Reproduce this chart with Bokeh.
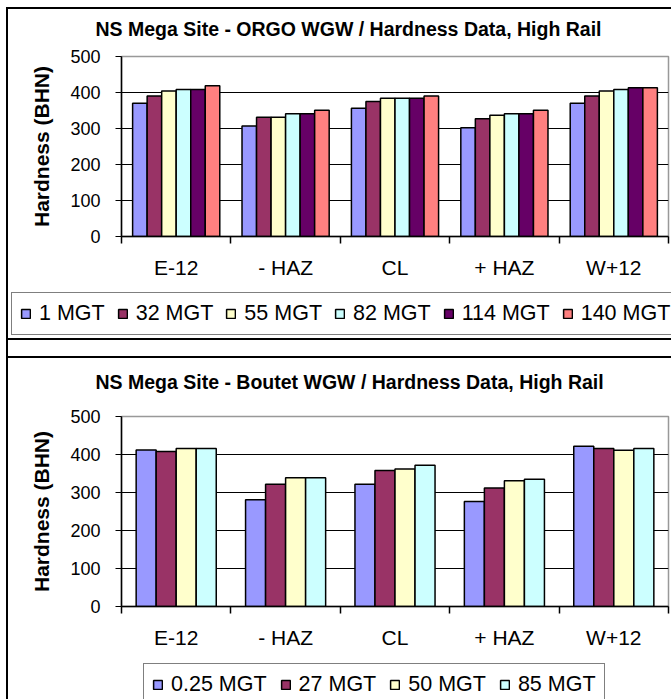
import numpy as np
from bokeh.plotting import figure
from bokeh.models import (ColumnDataSource, Range1d, FixedTicker, Legend,
                          LegendItem, Div, Title)
from bokeh.transform import dodge
from bokeh.layouts import column
from bokeh.embed import file_html
from bokeh.resources import INLINE

# ---------------- data ----------------
categories = ["E-12", "- HAZ", "CL", "+ HAZ", "W+12"]
y_ticks = [0, 100, 200, 300, 400, 500]

orgo_title = "NS Mega Site - ORGO WGW / Hardness Data, High Rail"
orgo_series = ["1 MGT", "32 MGT", "55 MGT", "82 MGT", "114 MGT", "140 MGT"]
orgo_1 = [370, 307, 356, 302, 370]
orgo_32 = [390, 331, 375, 327, 390]
orgo_55 = [404, 331, 384, 337, 404]
orgo_82 = [408, 341, 384, 341, 408]
orgo_114 = [408, 341, 384, 341, 413]
orgo_140 = [419, 351, 390, 351, 413]

boutet_title = "NS Mega Site - Boutet WGW / Hardness Data, High Rail"
boutet_series = ["0.25 MGT", "27 MGT", "50 MGT", "85 MGT"]
boutet_025 = [412, 281, 322, 276, 422]
boutet_27 = [408, 322, 358, 312, 416]
boutet_50 = [416, 339, 362, 331, 411]
boutet_85 = [416, 339, 372, 335, 416]

colors = ["#9999FF", "#993366", "#FFFFCC", "#CCFFFF", "#660066", "#FF8080"]

FONT = "Liberation Sans"
W = 663


def make_chart(title, series_values, height, frame_top, frame_bottom,
               bar_w, title_offset, title_standoff, spacer_standoff):
    n_cat = len(categories)
    centers = list(np.arange(n_cat) + 0.5)
    bounds = list(np.arange(n_cat + 1).astype(float))
    data = {"x": centers}
    for j, vals in enumerate(series_values):
        data[f"s{j}"] = vals
    src = ColumnDataSource(data)

    p = figure(width=W, height=height, output_backend="svg",
               toolbar_location=None, tools="",
               x_range=Range1d(0, n_cat), y_range=Range1d(0, 500),
               min_border_left=113, min_border_right=3,
               min_border_top=frame_top,
               min_border_bottom=height - frame_bottom)
    p.frame_align = False
    p.background_fill_color = "white"
    p.border_fill_color = "white"
    p.outline_line_color = "#999999"
    p.outline_line_width = 1.5
    p.title.text = ""

    # spacer between frame and title, then the title itself (outermost)
    p.add_layout(Title(text=" ", text_font_size="1px",
                       standoff=spacer_standoff), "above")
    p.add_layout(Title(text=title, align="left", offset=title_offset,
                       standoff=title_standoff, text_font=FONT,
                       text_font_size="19.5px", text_font_style="bold",
                       text_color="black"), "above")

    n = len(series_values)
    for j in range(n):
        off = (j - (n - 1) / 2) * bar_w
        p.vbar(x=dodge("x", off, range=p.x_range), top=f"s{j}",
               width=bar_w, bottom=0, source=src,
               fill_color=colors[j], line_color="black", line_width=1.5)

    ya = p.yaxis[0]
    ya.ticker = FixedTicker(ticks=y_ticks)
    ya.axis_line_color = "black"
    ya.axis_line_width = 1.5
    ya.major_tick_out = 6
    ya.major_tick_in = 0
    ya.minor_tick_out = 0
    ya.minor_tick_in = 0
    ya.major_tick_line_color = "black"
    ya.major_label_standoff = 15
    ya.major_label_text_font = FONT
    ya.major_label_text_font_size = "18px"
    ya.major_label_text_color = "black"
    ya.axis_label = "Hardness (BHN)"
    ya.axis_label_text_font = FONT
    ya.axis_label_text_font_size = "21px"
    ya.axis_label_text_font_style = "bold"
    ya.axis_label_text_color = "black"
    ya.axis_label_standoff = 14

    xa = p.xaxis[0]
    xa.ticker = FixedTicker(ticks=centers, minor_ticks=bounds)
    xa.major_label_overrides = {c: lab for c, lab in zip(centers, categories)}
    xa.axis_line_color = "black"
    xa.axis_line_width = 1.5
    xa.major_tick_out = 0
    xa.major_tick_in = 0
    xa.minor_tick_out = 7
    xa.minor_tick_in = 0
    xa.minor_tick_line_color = "black"
    xa.minor_tick_line_width = 1.5
    xa.major_label_standoff = 12
    xa.major_label_text_font = FONT
    xa.major_label_text_font_size = "21px"
    xa.major_label_text_color = "black"

    p.xgrid.visible = False
    p.ygrid.ticker = FixedTicker(ticks=y_ticks[1:-1])
    p.ygrid.grid_line_color = "black"
    p.ygrid.grid_line_width = 1
    return p, src


def make_legend(series_names, src, height, left, spacing):
    # legend strip: same bar styles (renderers hidden), only the legend shows
    q = figure(width=W, height=height, output_backend="svg",
               toolbar_location=None, tools="",
               x_range=Range1d(0, len(categories)),
               y_range=Range1d(0, 500),
               x_axis_location=None, y_axis_location=None,
               min_border_left=left, min_border_top=1,
               min_border_right=0, min_border_bottom=0)
    q.frame_align = False
    q.outline_line_color = None
    q.background_fill_color = "white"
    q.border_fill_color = "white"
    q.grid.visible = False
    items = []
    for j, nm in enumerate(series_names):
        r = q.vbar(x="x", top=f"s{j}", width=0.1, source=src,
                   fill_color=colors[j], line_color="black", line_width=1.5)
        r.visible = False
        items.append(LegendItem(label=nm, renderers=[r]))
    leg = Legend(items=items, orientation="horizontal", location="top_left",
                 glyph_width=11, glyph_height=11, label_standoff=8,
                 spacing=spacing, padding=8, margin=0,
                 label_text_font=FONT, label_text_font_size="21.5px",
                 label_text_color="black",
                 inactive_fill_alpha=0.0,
                 border_line_color="black", border_line_width=1.5,
                 background_fill_color="white", background_fill_alpha=1.0)
    q.add_layout(leg)
    return q


p1, src1 = make_chart(orgo_title,
                      [orgo_1, orgo_32, orgo_55, orgo_82, orgo_114, orgo_140],
                      height=282, frame_top=47, frame_bottom=227,
                      bar_w=0.1328, title_offset=-26, title_standoff=12,
                      spacer_standoff=8)
l1 = make_legend(orgo_series, src1, height=47, left=3, spacing=12)

sep = Div(text="", width=W, height=20, margin=0,
          styles={"border-top": "2px solid black",
                  "border-bottom": "2px solid black",
                  "box-sizing": "border-box"})

p2, src2 = make_chart(boutet_title,
                      [boutet_025, boutet_27, boutet_50, boutet_85],
                      height=304, frame_top=58, frame_bottom=248,
                      bar_w=0.183, title_offset=-26, title_standoff=21,
                      spacer_standoff=10)
l2 = make_legend(boutet_series, src2, height=37, left=135, spacing=13)

layout = column(p1, l1, sep, p2, l2, spacing=0,
                styles={"margin-left": "6px", "margin-top": "7px",
                        "border-left": "2px solid black",
                        "border-top": "2px solid black"})

open("out.html", "w").write(file_html(layout, INLINE))
